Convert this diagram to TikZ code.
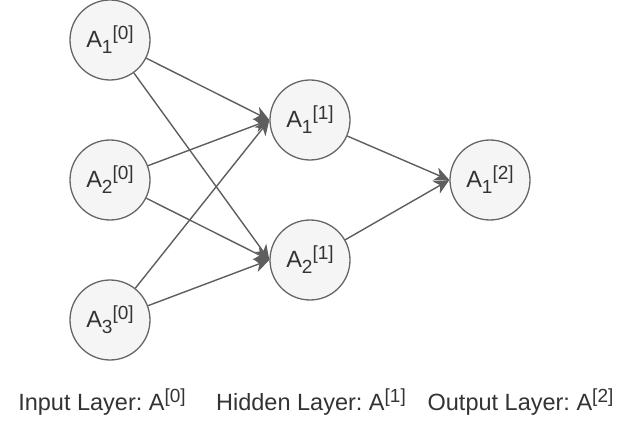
\documentclass[tikz,border=0pt]{standalone}
\usepackage{fontspec}
\setmainfont{Liberation Sans}
\usetikzlibrary{arrows.meta}
\definecolor{nfill}{HTML}{F5F5F5}
\definecolor{nline}{HTML}{666666}
\definecolor{aline}{HTML}{5E5E5E}
\definecolor{txt}{HTML}{333333}
\newcommand\mysup[1]{\raisebox{8pt}{\fontsize{19}{20}\selectfont #1}}
\newcommand\mysub[1]{\raisebox{-6pt}{\fontsize{19}{20}\selectfont #1}}
\begin{document}
\frenchspacing
\begin{tikzpicture}[x=1pt,y=-1pt,
  neuron/.style={circle,draw=nline,fill=nfill,line width=1.3pt,minimum size=80pt,inner sep=0pt,text=txt,font=\fontsize{23.5}{26}\selectfont},
  conn/.style={draw=aline,line width=1.4pt,-{Stealth[length=15pt,width=14pt,inset=4.5pt]}},
  lab/.style={text=txt,font=\fontsize{23.5}{26}\selectfont,inner sep=0pt,anchor=base}]
\useasboundingbox (0,0) rectangle (632,422);
\node[neuron] (i1) at (110,40) {A\mysub{1}\mysup{[0]}};
\node[neuron] (i2) at (110,180) {A\mysub{2}\mysup{[0]}};
\node[neuron] (i3) at (110,320) {A\mysub{3}\mysup{[0]}};
\node[neuron] (h1) at (310,120) {A\mysub{1}\mysup{[1]}};
\node[neuron] (h2) at (310,260) {A\mysub{2}\mysup{[1]}};
\node[neuron] (o1) at (490,180) {A\mysub{1}\mysup{[2]}};
\foreach \s in {i1,i2,i3}{
  \draw[conn] (\s) -- (h1.west);
  \draw[conn] (\s) -- (h2.west);
}
\draw[conn] (h1) -- (o1.west);
\draw[conn] (h2) -- (o1.west);
\node[lab] (l0) at (102,410) {Input Layer: A\mysup{[0]}};
\node[lab] (l1) at (311,410) {Hidden Layer: A\mysup{[1]}};
\node[lab] (l2) at (520.5,410) {Output Layer: A\mysup{[2]}};
\end{tikzpicture}
\end{document}
